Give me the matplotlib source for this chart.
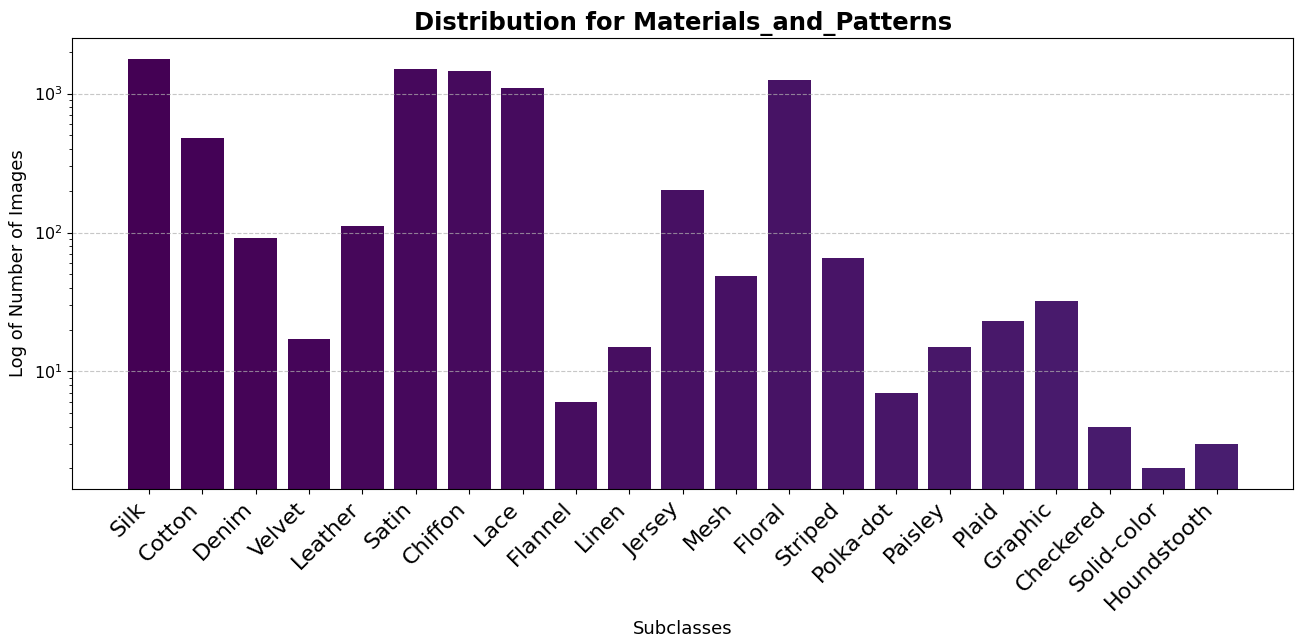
import numpy as np
import matplotlib
matplotlib.use("Agg")
from matplotlib import pyplot as plt

# image counts per subclass
subclasses = ["Silk", "Cotton", "Denim", "Velvet", "Leather", "Satin", "Chiffon",
              "Lace", "Flannel", "Linen", "Jersey", "Mesh", "Floral", "Striped",
              "Polka-dot", "Paisley", "Plaid", "Graphic", "Checkered",
              "Solid-color", "Houndstooth"]
counts = [1790, 482, 92, 17, 112, 1514, 1463, 1104, 6, 15, 204, 49, 1261,
          66, 7, 15, 23, 32, 4, 2, 3]

colors = plt.cm.viridis(np.linspace(0, 0.08, len(subclasses)))

fig, ax = plt.subplots(figsize=(12.96, 6.4), dpi=100)
ax.bar(subclasses, counts, color=colors)
ax.set_yscale("log")
ax.set_title("Distribution for Materials_and_Patterns", fontsize=17.5, fontweight="bold")
ax.set_xlabel("Subclasses", fontsize=13)
ax.set_ylabel("Log of Number of Images", fontsize=13, labelpad=5)
plt.xticks(rotation=45, ha="right", fontsize=16)
ax.tick_params(axis="y", labelsize=11.5)
ax.grid(axis="y", linestyle="--", alpha=0.7)
fig.subplots_adjust(left=0.0556, right=0.998, top=0.9406, bottom=0.236)
plt.savefig("out.png")
